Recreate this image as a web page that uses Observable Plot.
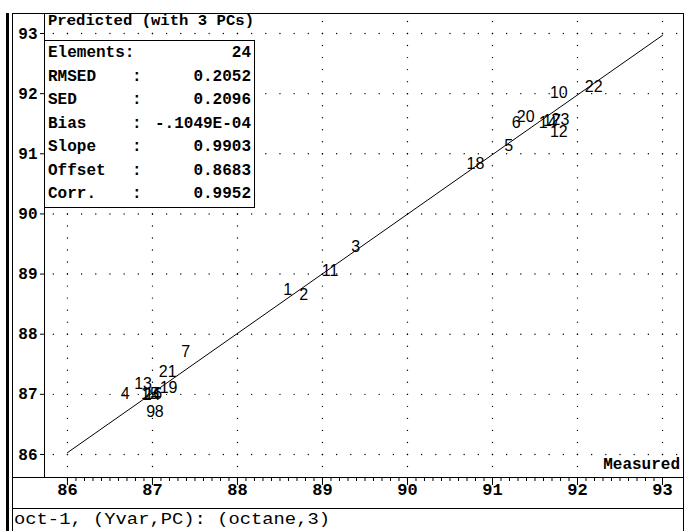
<!DOCTYPE html>
<html><head><meta charset="utf-8">
<script src="https://cdn.jsdelivr.net/npm/d3@7"></script>
<script src="https://cdn.jsdelivr.net/npm/@observablehq/plot@0.6"></script>
<style>
html,body{margin:0;padding:0;background:#fff;}
#chart svg{display:block;}
</style></head><body><div id="chart"></div>
<script>
// ---- data ----
const sampleIds = ["1","2","3","4","5","6","7","8","9","10","11","12","13","14","15","16","17","18","19","20","21","22","23","24"];
const measured  = [88.59,88.78,89.39,86.68,91.19,91.28,87.39,87.08,86.98,91.78,89.09,91.78,86.89,91.65,86.97,87.01,91.70,90.80,87.19,91.39,87.18,92.19,91.80,86.99];
const predicted = [88.73,88.65,89.46,87.00,91.14,91.51,87.70,86.70,86.70,92.02,89.06,91.37,87.18,91.51,87.00,87.01,91.55,90.83,87.11,91.61,87.38,92.12,91.56,86.99];
const fitMeasured  = [86, 93];
const fitPredicted = [86.03, 92.97];
const xTicks = [86, 87, 88, 89, 90, 91, 92, 93];
const yTicks = [86, 87, 88, 89, 90, 91, 92, 93];
const statNames  = ["Elements:", "RMSED", "SED", "Bias", "Slope", "Offset", "Corr."];
const statColons = ["", ":", ":", ":", ":", ":", ":"];
const statValues = ["24", "0.2052", "0.2096", "-.1049E-04", "0.9903", "0.8683", "0.9952"];
const plotTitle = "Predicted (with 3 PCs)";
const xName = "Measured";
const caption = "oct-1, (Yvar,PC): (octane,3)";

// ---- derived tables ----
const points = sampleIds.map((id, i) => ({id, x: measured[i], y: predicted[i]}));
const fit = fitMeasured.map((x, i) => ({x, y: fitPredicted[i]}));
const minorTicks = d3.range(860, 931).map(d => d / 10);
const xDomain = [85.73, 93.247], yDomain = [85.617, 93.333];
// dotted grid (decoration): dots along integer lines
const gridDots = [];
for (const gx of xTicks) for (let k = Math.ceil(yDomain[0]*5); k <= Math.floor(yDomain[1]*5); k++) gridDots.push({x: gx, y: k/5});
for (const gy of yTicks) for (let k = Math.ceil(xDomain[0]*6); k <= Math.floor(xDomain[1]*6); k++) gridDots.push({x: k/6, y: gy});

const W = 693, H = 531;
const mono = "Liberation Mono, monospace";
const chart = Plot.plot({
  width: W, height: H,
  marginLeft: 44, marginRight: 10, marginTop: 13, marginBottom: 54,
  x: {domain: xDomain, label: null},
  y: {domain: yDomain, label: null},
  style: {background: "white", color: "black", fontFamily: mono, fontSize: "15px"},
  marks: [
    Plot.dot(gridDots, {x: "x", y: "y", r: 0.7, fill: "black", stroke: null}),
    Plot.line(fit, {x: "x", y: "y", stroke: "black", strokeWidth: 1}),
    Plot.text(points, {x: "x", y: "y", text: "id", fontFamily: "Liberation Sans, Arial, sans-serif", fontSize: 16, fill: "black"}),
    Plot.axisX({ticks: minorTicks, tickSize: 4, tickFormat: () => "", label: null, stroke: "black"}),
    Plot.axisX({ticks: xTicks, tickSize: 8, tickFormat: () => "", label: null, stroke: "black"}),
    Plot.text(xTicks, {x: d => d, text: d => String(d), frameAnchor: "bottom", dy: 17,
      fontWeight: "bold", fontSize: 17, fontFamily: mono, fill: "black"}),
    Plot.axisY({ticks: yTicks, tickSize: 4, tickPadding: 3, tickFormat: d => String(d), label: null, stroke: "black",
      fontWeight: "bold", fontSize: 16, fontFamily: mono}),
    Plot.frame({stroke: "black"})
  ]
});
document.getElementById("chart").appendChild(chart);

// ---- annotations & outer frame ----
const svg = d3.select(chart);
const g = svg.append("g").attr("fill", "black").attr("text-anchor", "start");
const line = (x1, y1, x2, y2, w = 1) => g.append("line").attr("x1", x1).attr("y1", y1).attr("x2", x2).attr("y2", y2).attr("stroke", "black").attr("stroke-width", w);
line(7.5, 13, 7.5, H, 3);
line(12.5, 13, 12.5, H, 1);
line(12, 13.5, 683.5, 13.5);
line(683.5, 13, 683.5, H);
line(12, 477.5, 683.5, 477.5);
line(12, 508.5, 683.5, 508.5);

const txt = (x, y, s, anchor = "start", opts = {}) => {
  const t = g.append("text").attr("x", x).attr("y", y).attr("dominant-baseline", "middle")
    .attr("text-anchor", anchor).attr("font-family", mono)
    .attr("font-weight", opts.weight || "bold").attr("font-size", opts.size || 15.5).text(s);
  if (opts.len) t.attr("textLength", opts.len).attr("lengthAdjust", "spacingAndGlyphs");
  return t;
};
txt(48, 21, plotTitle, "start", {len: 206});

// stats box
g.append("rect").attr("x", 44.5).attr("y", 40.5).attr("width", 210).attr("height", 167)
  .attr("fill", "white").attr("stroke", "black");
statNames.forEach((n, i) => {
  const cy = 53 + i * 23.5;
  txt(48, cy, n, "start", {size: 16});
  txt(132, cy, statColons[i], "start", {size: 16});
  txt(251, cy, statValues[i], "end", {size: 16});
});

txt(680, 465, xName, "end", {size: 16});
txt(14, 520, caption, "start", {weight: "normal", size: 16, len: 316});
</script></body></html>
